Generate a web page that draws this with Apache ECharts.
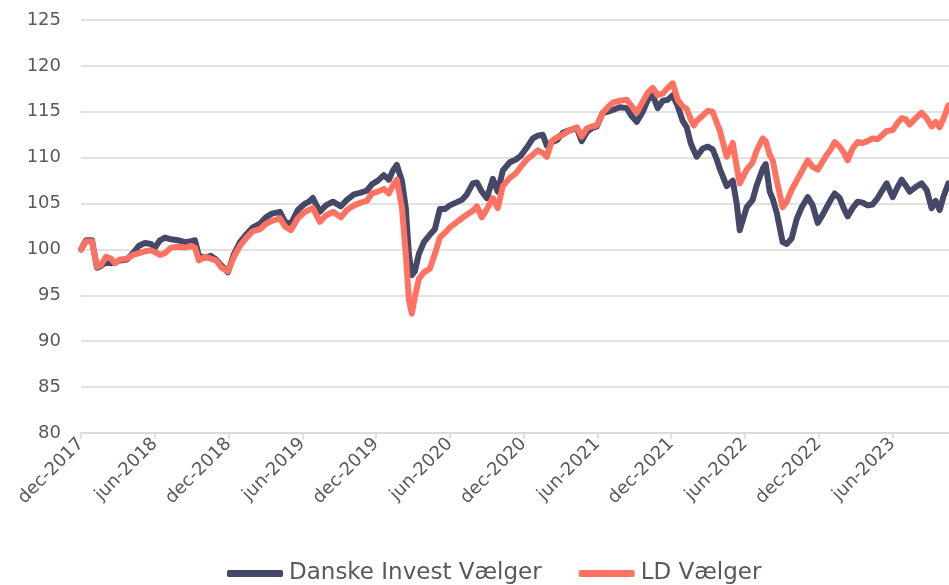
<!DOCTYPE html>
<html lang="da">
<head>
    <meta http-equiv="Content-Type" content="text/html; charset=utf-8" />
    <title>Danske Invest Vælger vs LD Vælger</title>
    <script src="https://cdn.jsdelivr.net/npm/echarts@6/dist/echarts.min.js"></script>
</head>
<body style="padding:0px;margin:0px;overflow:hidden;background:#fff;">

<div id="main" style="width:949px;height:585px;"></div>

<script type="text/javascript">
    // x = maaneder efter dec-2017
    var months = [
        0, 0.41, 0.89, 1.30, 1.63, 2.03, 2.44, 2.76, 3.17, 3.74, 4.23, 4.72, 5.20, 5.69, 6.02, 6.42, 6.83, 7.32, 7.89, 8.46,
        8.94, 9.27, 9.59, 10.08, 10.57, 10.98, 11.46, 11.95, 12.44, 12.93, 13.41, 13.98, 14.55, 15.04, 15.53, 16.18, 16.59, 17.07, 17.64, 18.13,
        18.54, 18.86, 19.43, 19.92, 20.49, 21.14, 21.63, 22.20, 22.76, 23.25, 23.66, 24.15, 24.63, 25.04, 25.37, 25.69, 26.10, 26.42, 26.67, 26.91,
        27.15, 27.48, 27.89, 28.37, 28.78, 29.19, 29.59, 30.00, 30.49, 30.98, 31.38, 31.87, 32.20, 32.60, 33.01, 33.50, 33.90, 34.31, 34.88, 35.37,
        35.77, 36.26, 36.75, 37.15, 37.56, 37.89, 38.29, 38.70, 39.19, 39.76, 40.33, 40.73, 41.14, 41.54, 41.95, 42.44, 42.85, 43.25, 43.82, 44.39,
        44.80, 45.20, 45.69, 46.10, 46.50, 46.91, 47.32, 47.72, 48.13, 48.54, 48.94, 49.27, 49.59, 49.84, 50.08, 50.57, 50.98, 51.38, 51.71, 51.95,
        52.52, 53.01, 53.33, 53.58, 54.15, 54.63, 54.96, 55.45, 55.69, 56.02, 56.26, 56.59, 57.07, 57.40, 57.80, 58.21, 58.62, 59.11, 59.51, 59.92,
        60.33, 60.65, 60.98, 61.30, 61.71, 62.03, 62.36, 62.76, 63.17, 63.58, 63.98, 64.39, 64.80, 65.20, 65.53, 66.02, 66.42, 66.75, 67.07, 67.40,
        67.89, 68.37, 68.78, 69.19, 69.51, 69.84, 70.16, 70.55
    ];

    var danske = [
        100.0, 101.0, 101.0, 98.0, 98.2, 98.6, 98.5, 98.6, 98.8, 98.9, 99.6, 100.4, 100.7, 100.6, 100.2, 101.0, 101.3, 101.1, 101.0, 100.8,
        100.9, 101.0, 99.3, 99.1, 99.3, 98.9, 98.2, 97.5, 99.5, 100.8, 101.6, 102.4, 102.8, 103.5, 103.9, 104.1, 103.0, 102.8, 104.3, 104.9,
        105.2, 105.6, 104.1, 104.8, 105.2, 104.7, 105.4, 106.0, 106.2, 106.4, 107.1, 107.5, 108.1, 107.6, 108.6, 109.2, 107.5, 104.5, 99.5, 97.2,
        97.6, 99.5, 100.8, 101.6, 102.2, 104.4, 104.4, 104.8, 105.1, 105.4, 106.0, 107.2, 107.3, 106.3, 105.6, 107.7, 106.3, 108.6, 109.5, 109.8,
        110.2, 111.1, 112.1, 112.4, 112.5, 111.3, 111.7, 111.9, 112.7, 113.0, 113.2, 111.8, 112.8, 113.2, 113.4, 114.9, 115.0, 115.2, 115.5, 115.4,
        114.5, 113.9, 115.0, 116.3, 116.8, 115.4, 116.2, 116.3, 116.8, 115.6, 114.0, 113.3, 111.6, 110.8, 110.1, 111.0, 111.2, 110.9, 109.8, 108.8,
        106.9, 107.5, 105.0, 102.1, 104.6, 105.4, 107.0, 108.8, 109.3, 106.3, 105.5, 104.0, 100.8, 100.6, 101.2, 103.3, 104.6, 105.7, 104.8, 102.9,
        103.8, 104.6, 105.4, 106.1, 105.6, 104.5, 103.6, 104.5, 105.2, 105.1, 104.8, 104.9, 105.6, 106.5, 107.2, 105.7, 106.8, 107.6, 107.0, 106.3,
        106.8, 107.2, 106.5, 104.5, 105.3, 104.3, 105.8, 107.2
    ];

    var ld = [
        100.0, 100.9, 100.9, 98.1, 98.3, 99.2, 99.0, 98.5, 98.9, 99.0, 99.4, 99.6, 99.8, 99.9, 99.7, 99.4, 99.6, 100.2, 100.3, 100.2,
        100.4, 100.2, 98.8, 99.2, 99.0, 98.8, 98.0, 97.6, 99.2, 100.4, 101.2, 102.0, 102.2, 102.8, 103.1, 103.4, 102.5, 102.1, 103.4, 104.0,
        104.3, 104.5, 103.0, 103.7, 104.1, 103.5, 104.3, 104.8, 105.1, 105.3, 106.1, 106.3, 106.6, 106.1, 107.0, 107.6, 104.6, 99.5, 94.5, 93.0,
        94.8, 96.8, 97.5, 97.9, 99.5, 101.3, 101.8, 102.4, 102.9, 103.4, 103.8, 104.2, 104.7, 103.5, 104.4, 105.6, 104.5, 106.9, 107.8, 108.3,
        109.0, 109.8, 110.3, 110.8, 110.5, 110.1, 111.8, 112.2, 112.5, 113.0, 113.3, 112.3, 113.2, 113.4, 113.5, 114.9, 115.5, 116.0, 116.2, 116.3,
        115.6, 114.9, 116.1, 117.1, 117.6, 116.8, 117.0, 117.6, 118.1, 116.3, 115.6, 115.3, 114.2, 113.5, 114.0, 114.6, 115.1, 115.0, 113.8, 113.0,
        110.1, 111.6, 109.0, 107.2, 108.7, 109.5, 110.8, 112.1, 111.8, 110.3, 109.7, 107.5, 104.6, 105.2, 106.5, 107.5, 108.5, 109.7, 109.0, 108.7,
        109.6, 110.3, 110.9, 111.7, 111.2, 110.6, 109.7, 111.0, 111.7, 111.6, 111.8, 112.1, 112.0, 112.5, 112.9, 113.0, 113.8, 114.3, 114.2, 113.6,
        114.3, 114.9, 114.3, 113.4, 113.9, 113.3, 114.3, 115.7
    ];

    // tick labels hver 6. maaned
    var tickMonths = [0, 6, 12, 18, 24, 30, 36, 42, 48, 54, 60, 66];
    var tickLabels = ['dec-2017', 'jun-2018', 'dec-2018', 'jun-2019', 'dec-2019', 'jun-2020',
        'dec-2020', 'jun-2021', 'dec-2021', 'jun-2022', 'dec-2022', 'jun-2023'];

    function pairs(ys) {
        var out = [];
        for (var i = 0; i < months.length; i++) {
            out.push([months[i], ys[i]]);
        }
        return out;
    }

    var font = '"DejaVu Sans", sans-serif';
    var myChart = echarts.init(document.getElementById('main'));

    var option = {
        animation: false,
        grid: {
            left: 81,
            right: 0,
            top: 20,
            bottom: 152
        },
        legend: {
            bottom: -5,
            left: 222,
            icon: 'roundRect',
            itemWidth: 56,
            itemHeight: 7,
            itemGap: 37,
            textStyle: {color: '#595959', fontSize: 23, fontFamily: font, padding: [0, 0, 0, 1]},
            data: ['Danske Invest Vælger', 'LD Vælger']
        },
        xAxis: {
            type: 'value',
            min: 0,
            max: 70.6,
            interval: 6,
            axisLine: {lineStyle: {color: '#d9d9d9', width: 1.5}},
            axisTick: {show: true, length: 6, lineStyle: {color: '#d9d9d9', width: 1.5}, customValues: tickMonths},
            splitLine: {show: false},
            axisLabel: {
                rotate: 45,
                margin: 8,
                color: '#595959',
                fontSize: 18,
                fontFamily: font,
                customValues: tickMonths,
                formatter: function (v) {
                    var i = tickMonths.indexOf(Math.round(v));
                    return i >= 0 ? tickLabels[i] : '';
                }
            }
        },
        yAxis: {
            type: 'value',
            min: 80,
            max: 125,
            interval: 5,
            axisLine: {show: false},
            axisTick: {show: false},
            splitLine: {lineStyle: {color: '#d9d9d9', width: 1.5}},
            axisLabel: {color: '#595959', fontSize: 18, fontFamily: font, margin: 20}
        },
        series: [
            {
                name: 'Danske Invest Vælger',
                type: 'line',
                showSymbol: false,
                data: pairs(danske),
                color: '#454866',
                lineStyle: {width: 6, cap: 'round', join: 'round'}
            },
            {
                name: 'LD Vælger',
                type: 'line',
                showSymbol: false,
                data: pairs(ld),
                color: '#ff7262',
                lineStyle: {width: 6, cap: 'round', join: 'round'}
            }
        ]
    };

    myChart.setOption(option);
</script>
</body>
</html>
